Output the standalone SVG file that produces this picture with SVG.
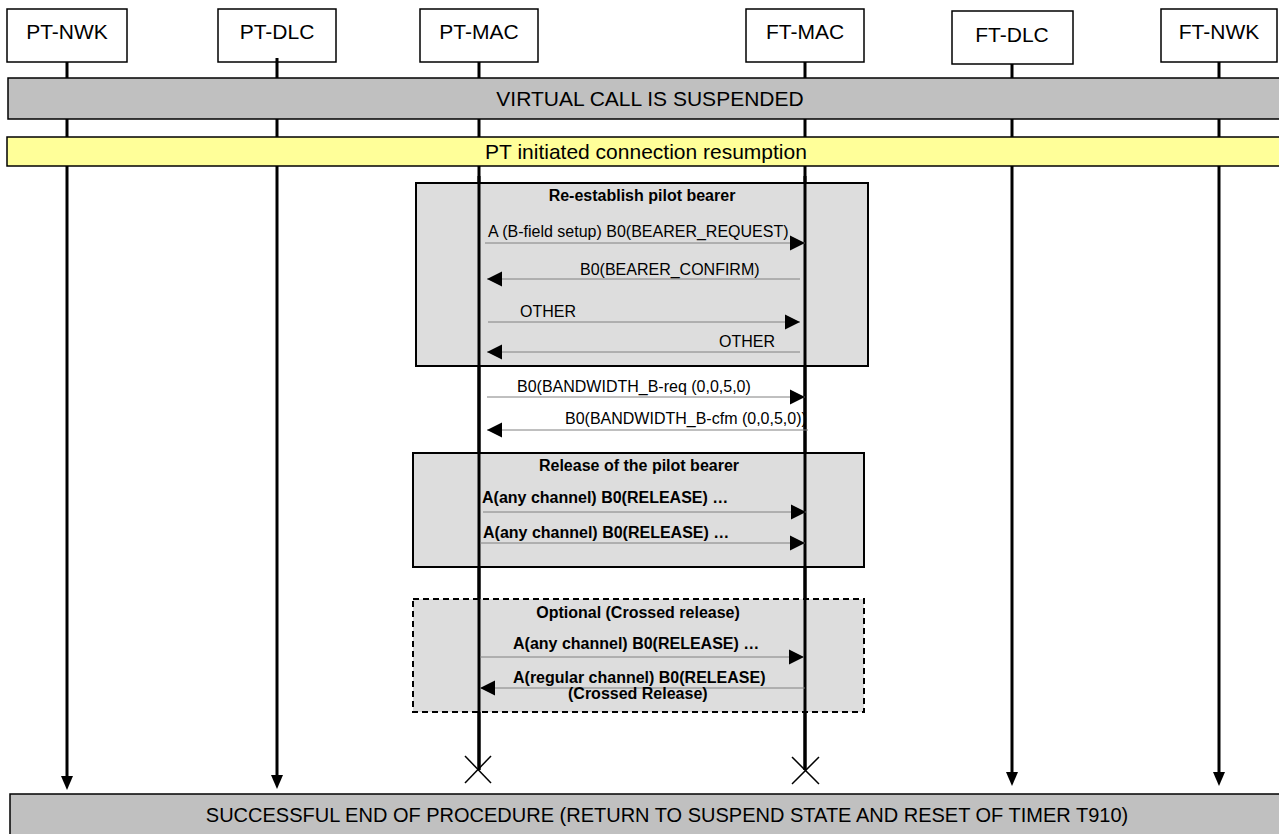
<svg xmlns="http://www.w3.org/2000/svg" width="1279" height="834" viewBox="0 0 1279 834">
<style>
.hdr{fill:#fff;stroke:#000;stroke-width:1.5}
.ht{font-family:"Liberation Sans",Arial,sans-serif;font-size:21px;text-anchor:middle;fill:#000}
.life{stroke:#000;stroke-width:3;fill:none}
.bar{stroke:#000;stroke-width:1.5}
.frag{fill:#dddddd;stroke:#000;stroke-width:2}
.dash{stroke-dasharray:6 4}
.ft{font-family:"Liberation Sans",Arial,sans-serif;font-size:16px;font-weight:bold;text-anchor:middle;fill:#000}
.m{stroke:#808080;stroke-width:1;fill:none}
.mt{font-family:"Liberation Sans",Arial,sans-serif;font-size:16px;fill:#000}
.mb{font-family:"Liberation Sans",Arial,sans-serif;font-size:16px;font-weight:bold;fill:#000}
.x{stroke:#000;stroke-width:1.5}
</style>
<defs>
<marker id="ah" markerUnits="userSpaceOnUse" markerWidth="16" markerHeight="16" refX="15" refY="7.5" orient="auto" overflow="visible"><path d="M0,0 L15,7.5 L0,15 z" fill="#000"/></marker>
<marker id="lh" markerUnits="userSpaceOnUse" markerWidth="16" markerHeight="14" refX="4" refY="6" orient="auto" overflow="visible"><path d="M0,0 L14,6 L0,12 z" fill="#000"/></marker>
</defs>

<g id="pt-nwk">
<rect class="hdr" x="7" y="9" width="120" height="53"/>
<text class="ht" x="67" y="39">PT-NWK</text>
<line class="life" x1="67" y1="62" x2="67" y2="780" marker-end="url(#lh)"/>
</g>
<g id="pt-dlc">
<rect class="hdr" x="218" y="9" width="118" height="53"/>
<text class="ht" x="277" y="39">PT-DLC</text>
<line class="life" x1="277" y1="58" x2="277" y2="779" marker-end="url(#lh)"/>
</g>
<g id="pt-mac">
<rect class="hdr" x="420" y="9" width="118" height="53"/>
<text class="ht" x="479" y="39">PT-MAC</text>
<line class="life" x1="479" y1="62" x2="479" y2="770"/>
<line class="x" x1="465" y1="756" x2="491" y2="783"/>
<line class="x" x1="491" y1="756" x2="465" y2="783"/>
</g>
<g id="ft-mac">
<rect class="hdr" x="746" y="9" width="118" height="53"/>
<text class="ht" x="805" y="39">FT-MAC</text>
<line class="life" x1="805" y1="62" x2="805" y2="770"/>
<line class="x" x1="792" y1="757" x2="819" y2="784"/>
<line class="x" x1="819" y1="757" x2="792" y2="784"/>
</g>
<g id="ft-dlc">
<rect class="hdr" x="952" y="11" width="121" height="53"/>
<text class="ht" x="1012" y="42">FT-DLC</text>
<line class="life" x1="1012" y1="64" x2="1012" y2="776" marker-end="url(#lh)"/>
</g>
<g id="ft-nwk">
<rect class="hdr" x="1161" y="9" width="116" height="53"/>
<text class="ht" x="1219" y="39">FT-NWK</text>
<line class="life" x1="1219" y1="62" x2="1219" y2="776" marker-end="url(#lh)"/>
</g>

<g id="virtual-call-suspended">
<rect class="bar" x="8" y="78" width="1280" height="41" fill="#c0c0c0"/>
<text class="ht" x="650" y="106">VIRTUAL CALL IS SUSPENDED</text>
</g>
<g id="pt-initiated-resumption">
<rect class="bar" x="7" y="137" width="1280" height="29" fill="#ffff99"/>
<text class="ht" x="646" y="159">PT initiated connection resumption</text>
</g>

<g id="re-establish-pilot-bearer">
<rect class="frag" x="416" y="183" width="452" height="183"/>
<text class="ft" x="642" y="201">Re-establish pilot bearer</text>
</g>
<g id="release-pilot-bearer">
<rect class="frag" x="413" y="453" width="451" height="114"/>
<text class="ft" x="639" y="471">Release of the pilot bearer</text>
</g>
<g id="optional-crossed-release">
<rect class="frag dash" x="413" y="599" width="451" height="113"/>
<text class="ft" x="638" y="618">Optional (Crossed release)</text>
</g>

<g id="lifeline-overlay">
<line class="life" x1="479" y1="176" x2="479" y2="770"/>
<line class="life" x1="805" y1="176" x2="805" y2="770"/>
</g>

<g id="connectors">
<line class="m" x1="485" y1="243" x2="805" y2="243" marker-end="url(#ah)"/>
<text class="mt" x="488" y="237">A (B-field setup) B0(BEARER_REQUEST)</text>
<line class="m" x1="800" y1="279" x2="487" y2="279" marker-end="url(#ah)"/>
<text class="mt" x="580" y="275">B0(BEARER_CONFIRM)</text>
<line class="m" x1="488" y1="322" x2="800" y2="322" marker-end="url(#ah)"/>
<text class="mt" x="520" y="317">OTHER</text>
<line class="m" x1="800" y1="352" x2="487" y2="352" marker-end="url(#ah)"/>
<text class="mt" x="719" y="347">OTHER</text>
<line class="m" x1="487" y1="397" x2="805" y2="397" marker-end="url(#ah)"/>
<text class="mt" x="517" y="392">B0(BANDWIDTH_B-req (0,0,5,0)</text>
<line class="m" x1="808" y1="430" x2="487" y2="430" marker-end="url(#ah)"/>
<text class="mt" x="565" y="424">B0(BANDWIDTH_B-cfm (0,0,5,0))</text>
<line class="m" x1="483" y1="512" x2="806" y2="512" marker-end="url(#ah)"/>
<text class="mb" x="482" y="503">A(any channel) B0(RELEASE) …</text>
<line class="m" x1="480" y1="543" x2="805" y2="543" marker-end="url(#ah)"/>
<text class="mb" x="483" y="538">A(any channel) B0(RELEASE) …</text>
<line class="m" x1="480" y1="657" x2="804" y2="657" marker-end="url(#ah)"/>
<text class="mb" x="513" y="649">A(any channel) B0(RELEASE) …</text>
<line class="m" x1="805" y1="688" x2="480" y2="688" marker-end="url(#ah)"/>
<text class="mb" x="513" y="683">A(regular channel) B0(RELEASE)</text>
<text class="mb" x="568" y="699">(Crossed Release)</text>
</g>

<g id="successful-end">
<rect class="bar" x="10" y="794" width="1280" height="50" fill="#c0c0c0"/>
<text class="ht" x="667" y="822" style="font-size:20px">SUCCESSFUL END OF PROCEDURE (RETURN TO SUSPEND STATE AND RESET OF TIMER T910)</text>
</g>
</svg>
